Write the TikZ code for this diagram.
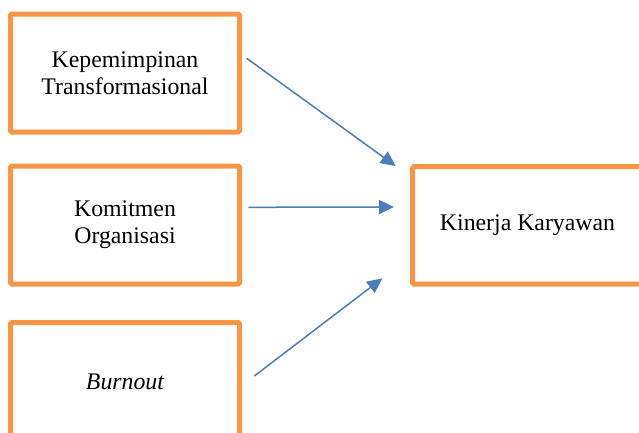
\documentclass[tikz,border=0pt]{standalone}
\usepackage{fontspec}
\setmainfont{Liberation Serif}
\usetikzlibrary{arrows.meta,calc}
\definecolor{boxorange}{HTML}{F79646}
\definecolor{arrowblue}{HTML}{4A7EBB}
\tikzset{
  vbox/.style={draw=boxorange, line width=5pt, rounded corners=1.5pt, outer sep=0pt, inner sep=0pt,
    minimum width=229pt, minimum height=118pt, align=center,
    font=\fontsize{23.8}{27}\selectfont},
  conn/.style={draw=arrowblue, line width=1.5pt, -{Triangle[length=15pt,width=14pt]}}
}
\begin{document}
\begin{tikzpicture}[x=1pt,y=-1pt]
\useasboundingbox (0,0) rectangle (639,432);
\clip (0,0) rectangle (639,432);
\node[vbox] (b1) at (125,73) {Kepemimpinan\\Transformasional};
\node[vbox] (b2) at (125,225) {Komitmen\\Organisasi};
\node[vbox] (b3) at (125,381.5) {\itshape Burnout};
\node[vbox, minimum width=230pt, minimum height=117.5pt] (k) at (527.5,225.3) {Kinerja Karyawan};
\coordinate (s1) at ($(b1.east)+(7.2,-14.7)$);
\coordinate (t1) at ($(k.north west)+(-16.8,-0.5)$);
\coordinate (s2) at ($(b2.east)+(8.8,-17.7)$);
\coordinate (t2) at ($(k.west)+(-18.5,-18.3)$);
\coordinate (s3) at ($(b3.east)+(14.8,-5.5)$);
\coordinate (t3) at ($(k.south west)+(-30.2,-5.7)$);
\draw[conn] (s1) -- (t1);
\draw[conn] (s2) -- (t2);
\draw[conn] (s3) -- (t3);
\end{tikzpicture}
\end{document}
